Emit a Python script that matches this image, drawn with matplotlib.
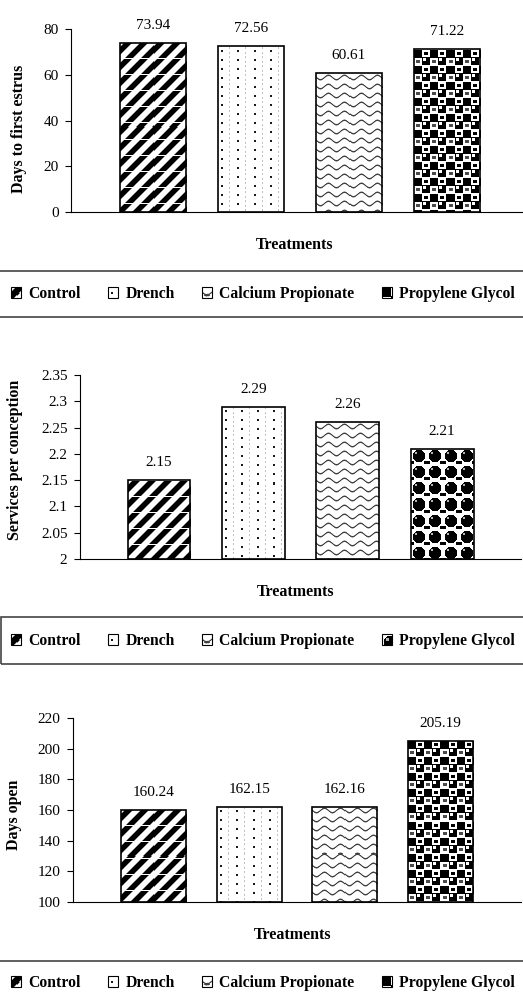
import numpy as np
import matplotlib
matplotlib.use("Agg")
import matplotlib.pyplot as plt
from matplotlib.patches import Rectangle
from matplotlib.ticker import FormatStrFormatter
from matplotlib.legend_handler import HandlerBase
from matplotlib.image import BboxImage
from matplotlib.transforms import Bbox, TransformedBbox

plt.rcParams['font.family'] = ['Liberation Serif', 'DejaVu Serif']
plt.rcParams['font.size'] = 11

# data
treatments = ["Control", "Drench", "Calcium Propionate", "Propylene Glycol"]
days_first_estrus = [73.94, 72.56, 60.61, 71.22]
services_per_conception = [2.15, 2.29, 2.26, 2.21]
days_open = [160.24, 162.15, 162.16, 205.19]

W, H = 523, 1002


# --- fill patterns (grey levels, 0 = black, 1 = white) ---
def control_tile():
    r, c = np.mgrid[0:16, 0:16]
    d = np.abs((c + r) % 16 - 8)
    t = np.clip((d - 3.0) / 1.8, 0, 1)
    t[0, :] = 1.0
    return t


def drench_tile():
    t = np.ones((9, 16))
    t[4:6, 3:5] = 0.1
    t[1:3, 11] = 0.75
    t[6:8, 11] = 0.75
    return t


def wave_tile():
    r, c = np.mgrid[0:9, 0:16]
    centre = 4 + 2.2 * np.sin(2 * np.pi * c / 16)
    t = np.clip((np.abs(r - centre) - 0.3) / 0.9, 0, 1)
    return 0.25 + 0.75 * t


def pg_tile_a():
    t = np.zeros((16, 16))
    t[0, :] = 1
    t[1:8, 8:16] = 1
    t[3:6, 10:14] = 0
    t[9:16, 0:8] = 1
    t[11:14, 2:6] = 0.3
    t[9:12, 9:12] = 1
    return t


def pg_tile_b():
    r, c = np.mgrid[0:16, 0:16]
    d = np.hypot(r - 7.5, c - 7.5)
    t = np.where(d < 6.3, 0.0, 1.0)
    t[4:6, 4:6] = 0.7
    t[13:16, 0:3] = 0.0
    t[13:16, 13:16] = 0.0
    t[0, :] = 1
    return t


def fill_bars(ax, bars, tile):
    th, tw = tile.shape
    for b in bars:
        x0, y0 = b.get_x(), b.get_y()
        x1, y1 = x0 + b.get_width(), y0 + b.get_height()
        p0, p1 = ax.transData.transform([(x0, y0), (x1, y1)])
        wpx = max(int(round(p1[0] - p0[0])), 1)
        hpx = max(int(round(p1[1] - p0[1])), 1)
        img = np.tile(tile, (hpx // th + 2, wpx // tw + 2))[:hpx, :wpx]
        ax.imshow(img, extent=(x0, x1, y0, y1), origin='upper', cmap='gray',
                  vmin=0, vmax=1, interpolation='nearest', aspect='auto', zorder=2)


class TileHandler(HandlerBase):
    def __init__(self, tile):
        super().__init__()
        self.tile = tile

    def create_artists(self, legend, orig_handle, xdescent, ydescent,
                       width, height, fontsize, trans):
        bb = TransformedBbox(Bbox.from_bounds(-xdescent, -ydescent, width, height), trans)
        img = BboxImage(bb, cmap='gray', interpolation='nearest')
        img.set_clim(0, 1)
        img.set_data(self.tile[:10, :10])
        rect = Rectangle((-xdescent, -ydescent), width, height, fill=False,
                         ec='black', lw=0.8, transform=trans)
        return [img, rect]


fig = plt.figure(figsize=(W / 100, H / 100), dpi=100)


def draw_panel(vals, ylabel, ylim, yticks, rect, xlim, width, ylab_xy, xlab_xy,
               leg_y, frame, tiles, frame_left):
    left, right, top, bottom = rect
    ax = fig.add_axes([left / W, 1 - bottom / H, (right - left) / W, (bottom - top) / H])
    ax.set_xlim(*xlim)
    ax.set_ylim(*ylim)
    x = np.arange(len(vals))
    ymin = ylim[0]
    bars = ax.bar(x, np.array(vals) - ymin, width, bottom=ymin, facecolor='none',
                  edgecolor='black', linewidth=1.2, zorder=3)
    for b, tile in zip(bars, tiles):
        fill_bars(ax, [b], tile)
    ax.set_xlim(*xlim)
    ax.set_ylim(*ylim)
    for xi, v in zip(x, vals):
        ax.annotate(f"{v:.2f}", (xi, v), xytext=(0, 10), textcoords='offset points',
                    ha='center', va='baseline')
    ax.set_yticks(yticks)
    ax.yaxis.set_major_formatter(FormatStrFormatter('%g'))
    ax.set_xticks([])
    ax.tick_params(axis='y', direction='out', length=4, width=0.8, pad=5)
    for s in ['top', 'right']:
        ax.spines[s].set_visible(False)
    ax.spines['left'].set_linewidth(0.8)
    ax.spines['bottom'].set_linewidth(0.8)

    fig.text(ylab_xy[0] / W, 1 - ylab_xy[1] / H, ylabel, rotation=90, ha='center',
             va='center', fontweight='bold', fontsize=11.5)
    fig.text(xlab_xy[0] / W, 1 - xlab_xy[1] / H, "Treatments", ha='center',
             va='baseline', fontweight='bold', fontsize=11.5)

    handles = [Rectangle((0, 0), 1, 1) for _ in treatments]
    hmap = {h: TileHandler(t) for h, t in zip(handles, tiles)}
    fig.legend(handles, treatments, handler_map=hmap, loc='center',
               bbox_to_anchor=(263 / W, 1 - leg_y / H), ncol=4, frameon=False,
               handlelength=0.65, handleheight=0.65, handletextpad=0.45,
               columnspacing=1.75, prop={'weight': 'bold', 'size': 11.3})
    ftop, fbot = frame
    fig.add_artist(Rectangle((frame_left / W, 1 - fbot / H), (W + 5 - frame_left) / W,
                             (fbot - ftop) / H, transform=fig.transFigure, fill=False,
                             ec='#444444', lw=1.2))
    return ax


draw_panel(days_first_estrus, "Days to first estrus", (0, 80), np.arange(0, 81, 20),
           (71, 524, 29, 212), (-0.839, 3.79), 0.675, (19, 129), (295, 249), 294,
           (271, 317), [control_tile(), drench_tile(), wave_tile(), pg_tile_a()], -3)

draw_panel(services_per_conception, "Services per conception", (2, 2.35),
           np.round(np.arange(2, 2.351, 0.05), 2),
           (80, 521, 375, 559), (-0.837, 3.835), 0.667, (15, 460), (296, 596), 641,
           (617, 664), [control_tile(), drench_tile(), wave_tile(), pg_tile_b()], 0.5)

draw_panel(days_open, "Days open", (100, 220), np.arange(100, 221, 20),
           (73, 521, 718, 902), (-0.841, 3.84), 0.68, (14, 815), (293, 939), 983,
           (961, 1010), [control_tile(), drench_tile(), wave_tile(), pg_tile_a()], -3)

fig.savefig("out.png", dpi=100)
